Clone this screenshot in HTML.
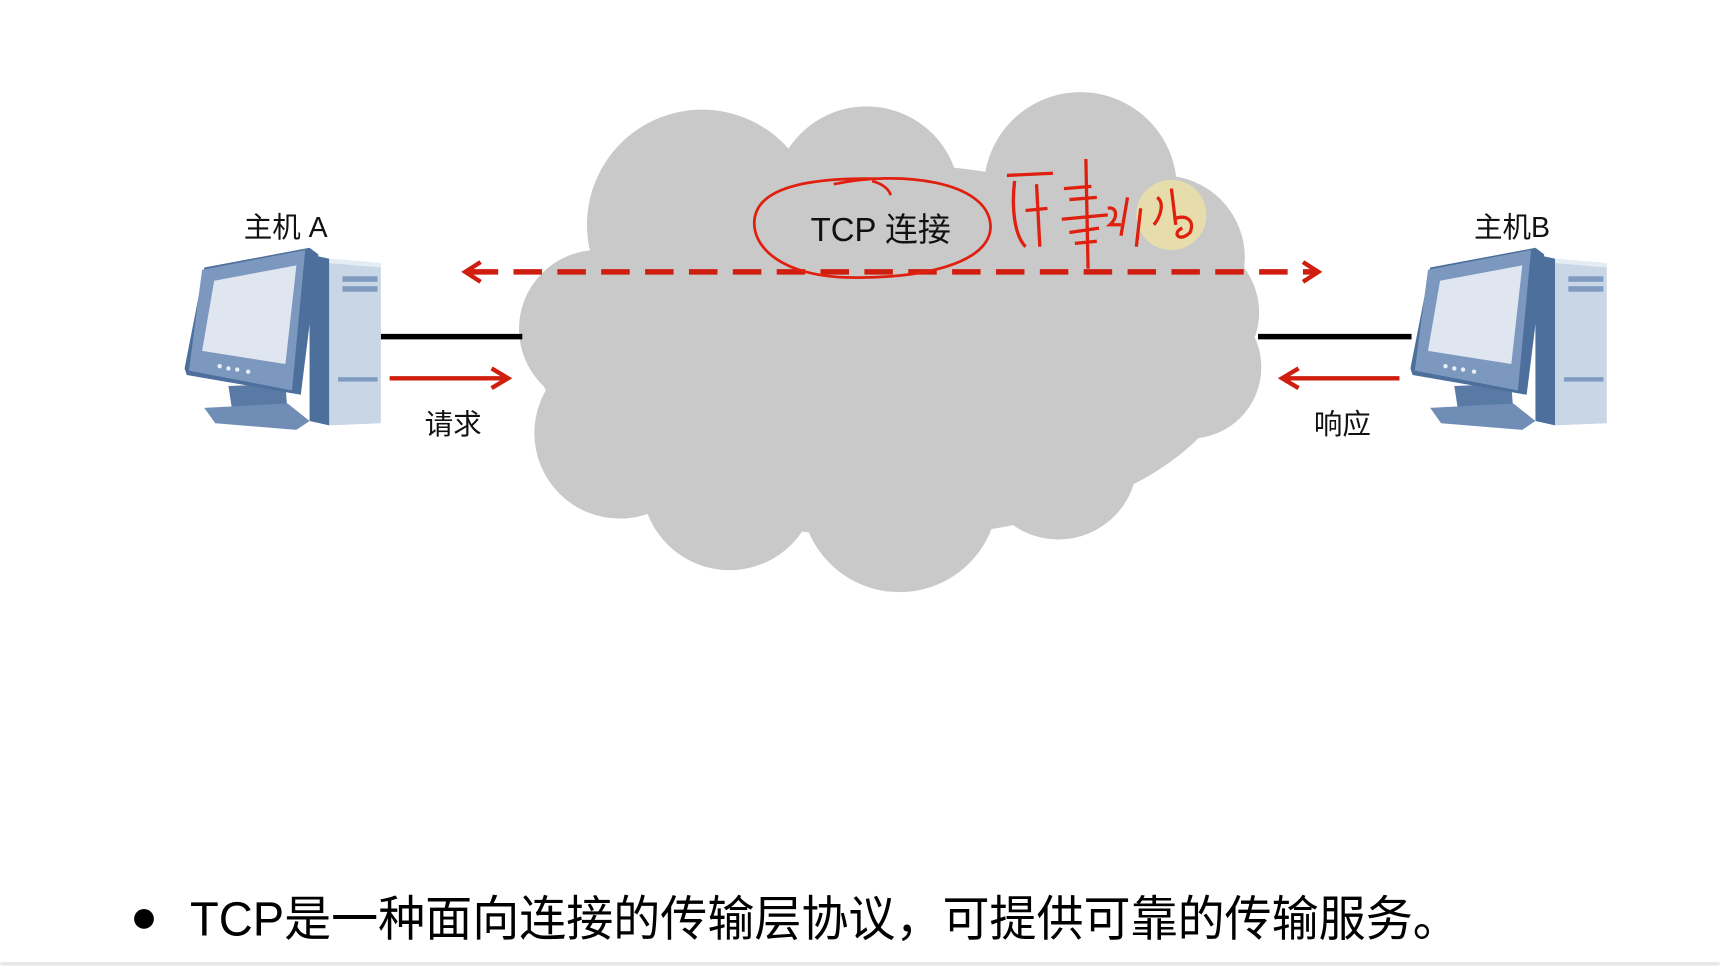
<!DOCTYPE html>
<html><head><meta charset="utf-8"><style>
html,body{margin:0;padding:0;background:#fff;width:1720px;height:966px;overflow:hidden}
svg{display:block}
text{font-family:"Liberation Sans","Noto Sans CJK SC",sans-serif;fill:#111}
</style></head><body>
<svg width="1720" height="966" viewBox="0 0 1568 881" xmlns="http://www.w3.org/2000/svg">
<defs>
<g id="pc">
  <polygon points="282,232 300,236 300,388 282,384" fill="#4d6f9c"/>
  <polygon points="300,236 347,240 347,386 300,388" fill="#c9d6e5"/>
  <rect x="312" y="252" width="32" height="5" fill="#7f9cc0"/>
  <rect x="312" y="261" width="32" height="5" fill="#7f9cc0"/>
  <rect x="308" y="344" width="36" height="4" fill="#7f9cc0"/>
  <polygon points="300,236 347,240 347,244 300,240" fill="#e4ecf4"/>
  <polygon points="208,352 260,350 262,378 212,378" fill="#5a7aa6"/>
  <polygon points="186,372 262,368 282,384 270,392 196,386" fill="#6f8db5"/>
  <polygon points="186,244 282,226 290,232 274,360 170,342 168,336" fill="#4d6f9c"/>
  <polygon points="184,246 278,228 266,356 172,338" fill="#7c98bf"/>
  <polygon points="195,256 270,242 260,332 184,320" fill="#dfe6ef"/>
  <circle cx="200" cy="334" r="2" fill="#e8eef5"/><circle cx="208" cy="336" r="2" fill="#e8eef5"/><circle cx="216" cy="337" r="2" fill="#e8eef5"/><circle cx="226" cy="339" r="2" fill="#e8eef5"/>
</g>
</defs>
<g fill="#c9c9c9">
  <ellipse cx="810" cy="320" rx="320" ry="170"/>
  <circle cx="640" cy="205" r="105"/>
  <circle cx="790" cy="182" r="85"/>
  <circle cx="985" cy="172" r="88"/>
  <circle cx="1060" cy="235" r="75"/>
  <circle cx="1080" cy="285" r="68"/>
  <circle cx="545" cy="300" r="72"/>
  <circle cx="565" cy="395" r="78"/>
  <circle cx="665" cy="440" r="80"/>
  <circle cx="820" cy="450" r="90"/>
  <circle cx="965" cy="420" r="72"/>
  <circle cx="1085" cy="335" r="65"/>
</g>
<line x1="347" y1="307" x2="476" y2="307" stroke="#000" stroke-width="5"/>
<line x1="1147" y1="307" x2="1287" y2="307" stroke="#000" stroke-width="5"/>
<line x1="428" y1="248" x2="1198" y2="248" stroke="#d01e0e" stroke-width="5" stroke-dasharray="26,14"/>
<polyline points="438,239 424,248 438,257" fill="none" stroke="#d01e0e" stroke-width="4"/>
<polyline points="1188,239 1202,248 1188,257" fill="none" stroke="#d01e0e" stroke-width="4"/>
<line x1="355" y1="345" x2="462" y2="345" stroke="#d01e0e" stroke-width="4"/>
<polyline points="448,336 463,345 448,354" fill="none" stroke="#d01e0e" stroke-width="4"/>
<line x1="1276" y1="345" x2="1170" y2="345" stroke="#d01e0e" stroke-width="4"/>
<polyline points="1184,336 1169,345 1184,354" fill="none" stroke="#d01e0e" stroke-width="4"/>
<use href="#pc"/>
<use href="#pc" transform="translate(1118,0)"/>
<text x="222" y="216" font-size="26">主机 A</text>
<text x="1344" y="216" font-size="26">主机B</text>
<text x="387" y="396" font-size="26">请求</text>
<text x="1198" y="396" font-size="26">响应</text>
<text x="739" y="220" font-size="30">TCP 连接</text>
<path d="M760,168 C820,155 900,165 903,205 C905,240 840,255 770,253 C700,250 680,215 690,192 C700,170 740,162 800,163" fill="none" stroke="#e0200e" stroke-width="2.5"/>
<path d="M795,165 C805,168 810,172 812,178" fill="none" stroke="#e0200e" stroke-width="2.5"/>
<circle cx="1068" cy="196" r="32" fill="#f3e6a0" opacity="0.7"/>
<g fill="none" stroke="#e0200e" stroke-width="3">
<path d="M918,160 L960,158 M925,165 C922,190 925,215 935,225 M945,168 L948,225 M935,192 L955,190"/>
<path d="M970,172 L995,170 M975,182 L1000,180 M968,200 L1010,196 M990,145 L992,245 M975,212 L1002,208 M980,222 L1000,220"/>
<path d="M1010,190 C1018,188 1020,198 1012,205 L1022,205 M1028,180 L1022,215 M1040,190 L1036,225"/>
<path d="M1055,180 C1062,185 1058,198 1052,205 M1068,172 L1072,205 M1070,200 C1080,195 1090,200 1085,212 C1075,222 1068,212 1078,208"/>
</g>
<circle cx="131" cy="838" r="9" fill="#000"/>
<text x="173" y="853" font-size="44" textLength="1158" lengthAdjust="spacingAndGlyphs" style="fill:#000">TCP是一种面向连接的传输层协议，可提供可靠的传输服务。</text>
<line x1="0" y1="879" x2="1568" y2="879" stroke="#e6e6e6" stroke-width="3"/>
</svg>
</body></html>
